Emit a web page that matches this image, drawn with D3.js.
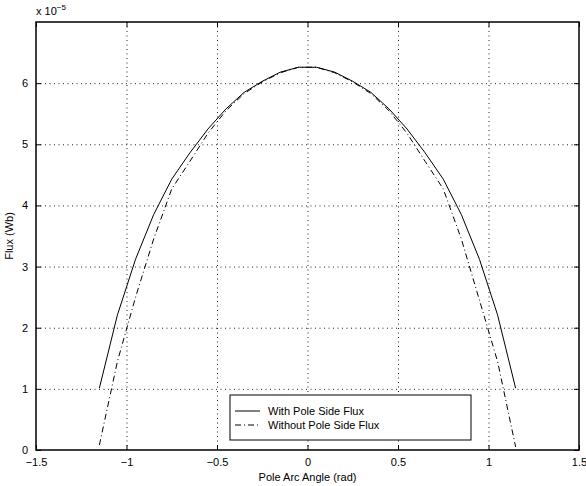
<!DOCTYPE html>
<html>
<head>
<meta charset="utf-8">
<script src="https://cdn.jsdelivr.net/npm/d3@7"></script>
<style>
  body { margin: 0; background: #fff; }
  text { font-family: "Liberation Sans", Arial, sans-serif; }
</style>
</head>
<body>
<div id="vis"></div>
<script>
// pole arc angle samples (rad)
var angles = [-1.15, -1.05, -0.95, -0.85, -0.75, -0.65, -0.55, -0.45, -0.35, -0.25, -0.15, -0.05,
              0.05, 0.15, 0.25, 0.35, 0.45, 0.55, 0.65, 0.75, 0.85, 0.95, 1.05, 1.15]
// flux, in units of 1e-5 Wb
var withSide = [1.01, 2.21, 3.12, 3.85, 4.43, 4.86, 5.25, 5.58, 5.85, 6.03, 6.18, 6.26,
                6.26, 6.18, 6.03, 5.85, 5.58, 5.25, 4.86, 4.43, 3.85, 3.12, 2.21, 1.01]
var withoutSide = [0.08, 1.45, 2.50, 3.45, 4.27, 4.72, 5.18, 5.55, 5.83, 6.02, 6.17, 6.26,
                   6.26, 6.17, 6.02, 5.83, 5.55, 5.18, 4.72, 4.27, 3.45, 2.45, 1.45, 0.05]
var xTicks = [-1.5, -1, -0.5, 0, 0.5, 1, 1.5]
var yTicks = [0, 1, 2, 3, 4, 5, 6]
var seriesNames = ["With Pole Side Flux", "Without Pole Side Flux"]

var width = 586, height = 486
var plotL = 36, plotR = 579, plotT = 22, plotB = 450

var svg = d3.select('#vis').append('svg')
  .attr('width', width)
  .attr('height', height)

var x = d3.scaleLinear().domain([-1.5, 1.5]).range([plotL, plotR])
var y = d3.scaleLinear().domain([0, 7]).range([plotB, plotT])

function fmt(v){ return String(v).replace('-', '\u2212') }

// grid
svg.append('g').selectAll('line')
  .data(xTicks.slice(1, -1))
  .enter().append('line')
  .attr('x1', d => x(d) + 0.5).attr('x2', d => x(d) + 0.5)
  .attr('y1', plotT).attr('y2', plotB)
  .attr('stroke', '#222').attr('stroke-width', 1)
  .attr('stroke-dasharray', '1,3.5')
svg.append('g').selectAll('line')
  .data(yTicks.slice(1))
  .enter().append('line')
  .attr('x1', plotL).attr('x2', plotR)
  .attr('y1', d => y(d) + 0.5).attr('y2', d => y(d) + 0.5)
  .attr('stroke', '#222').attr('stroke-width', 1)
  .attr('stroke-dasharray', '1,3.5')

// axes with inward ticks
svg.append('g').attr('transform', 'translate(0,' + plotB + ')')
  .call(d3.axisBottom(x).tickValues(xTicks).tickSizeInner(-5).tickSizeOuter(0).tickPadding(8).tickFormat(fmt))
svg.append('g').attr('transform', 'translate(0,' + plotT + ')')
  .call(d3.axisTop(x).tickValues(xTicks).tickSizeInner(-5).tickSizeOuter(0).tickFormat(''))
svg.append('g').attr('transform', 'translate(' + plotL + ',0)')
  .call(d3.axisLeft(y).tickValues(yTicks).tickSizeInner(-5).tickSizeOuter(0).tickPadding(8).tickFormat(fmt))
svg.append('g').attr('transform', 'translate(' + plotR + ',0)')
  .call(d3.axisRight(y).tickValues(yTicks).tickSizeInner(-5).tickSizeOuter(0).tickFormat(''))

svg.selectAll('.domain').remove()
svg.selectAll('.tick line').attr('stroke', '#000')
svg.selectAll('.tick text').attr('fill', '#000').style('font-size', '11px').style('font-family', '"Liberation Sans", Arial, sans-serif')

// frame
svg.append('rect')
  .attr('x', plotL).attr('y', plotT)
  .attr('width', plotR - plotL).attr('height', plotB - plotT)
  .attr('fill', 'none').attr('stroke', '#000').attr('stroke-width', 1.5)

// curves
var line = d3.line().x(d => x(d[0])).y(d => y(d[1]))
svg.append('path')
  .datum(angles.map((a, i) => [a, withSide[i]]))
  .attr('d', line)
  .attr('fill', 'none').attr('stroke', '#000').attr('stroke-width', 1)
svg.append('path')
  .datum(angles.map((a, i) => [a, withoutSide[i]]))
  .attr('d', line)
  .attr('fill', 'none').attr('stroke', '#000').attr('stroke-width', 1)
  .attr('stroke-dasharray', '6,3,1,3')

// exponent label
var expo = svg.append('text').attr('x', plotL).attr('y', 15).style('font-size', '11px')
expo.append('tspan').text('x 10')
expo.append('tspan').attr('dy', -5).style('font-size', '8px').text('\u22125')

// axis labels
svg.append('text')
  .attr('x', (plotL + plotR) / 2).attr('y', 481)
  .attr('text-anchor', 'middle').style('font-size', '11px')
  .text('Pole Arc Angle (rad)')
svg.append('text')
  .attr('transform', 'translate(13,' + ((plotT + plotB) / 2) + ') rotate(-90)')
  .attr('text-anchor', 'middle').style('font-size', '11px')
  .text('Flux (Wb)')

// legend
var lg = svg.append('g')
lg.append('rect')
  .attr('x', 230).attr('y', 395).attr('width', 241).attr('height', 45)
  .attr('fill', '#fff').attr('stroke', '#000').attr('stroke-width', 1)
seriesNames.forEach(function(name, i){
  var ly = 411 + i * 14
  lg.append('line')
    .attr('x1', 235).attr('x2', 260).attr('y1', ly).attr('y2', ly)
    .attr('stroke', '#000').attr('stroke-width', 1)
    .attr('stroke-dasharray', i == 1 ? '6,3,1,3' : null)
  lg.append('text')
    .attr('x', 268).attr('y', ly + 4)
    .style('font-size', '11px')
    .text(name)
})
</script>
</body>
</html>
